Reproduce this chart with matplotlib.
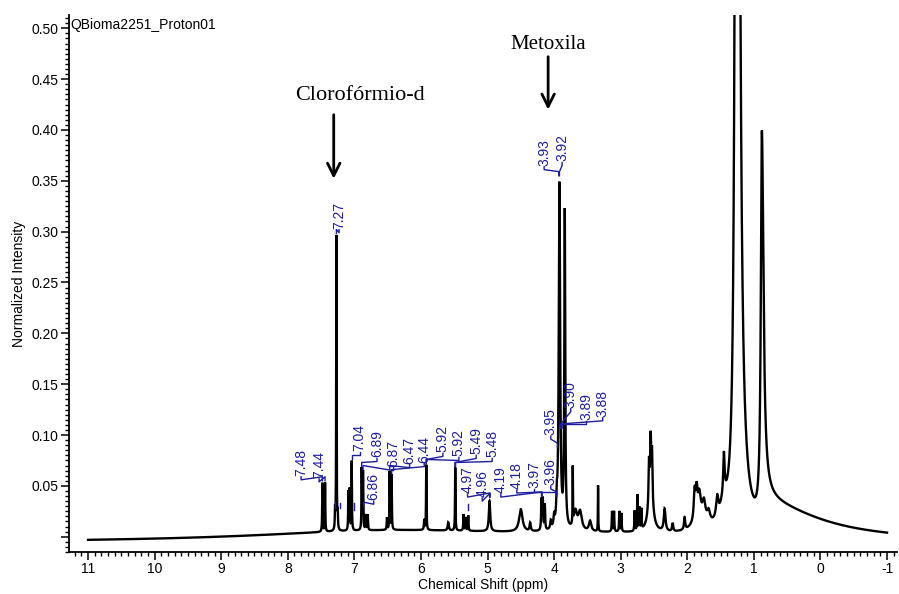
import numpy as np
import matplotlib
matplotlib.use("Agg")
import matplotlib.pyplot as plt
from matplotlib.ticker import MultipleLocator, FuncFormatter

plt.rcParams['font.family'] = ['Liberation Sans', 'DejaVu Sans']

# ---- peak table: centre (ppm), height, half-width toward high ppm, toward low ppm
peak_ppm = [7.48, 7.44, 7.29, 7.27, 7.25, 7.09, 7.07, 7.04,
            6.89, 6.87, 6.83, 6.80, 6.51, 6.47, 6.44,
            5.95, 5.92, 5.59, 5.485, 5.36, 5.33, 5.29,
            4.97, 4.50, 4.36, 4.19, 4.17, 4.14, 4.05, 4.00, 3.96,
            3.92, 3.84, 3.72, 3.68, 3.61, 3.46, 3.34,
            3.13, 3.10, 3.02, 2.99, 2.79, 2.75, 2.72, 2.69,
            2.575, 2.55, 2.53, 2.55, 2.34, 2.22, 2.04,
            1.89, 1.86, 1.82, 1.75, 1.68, 1.80, 1.55, 1.45, 1.45,
            1.255, 0.88, 0.85]
peak_height = [0.048, 0.048, 0.018, 0.290, 0.015, 0.038, 0.040, 0.068,
               0.060, 0.057, 0.015, 0.015, 0.012, 0.057, 0.054,
               0.010, 0.064, 0.008, 0.062, 0.016, 0.013, 0.015,
               0.030, 0.022, 0.008, 0.030, 0.030, 0.025, 0.008, 0.010, 0.020,
               0.340, 0.310, 0.055, 0.018, 0.018, 0.010, 0.045,
               0.020, 0.020, 0.020, 0.018, 0.020, 0.035, 0.022, 0.020,
               0.040, 0.050, 0.045, 0.040, 0.022, 0.008, 0.012,
               0.028, 0.026, 0.022, 0.016, 0.010, 0.014, 0.020, 0.040, 0.018,
               2.200, 0.370, 0.032]
peak_w_hi = [0.004, 0.004, 0.004, 0.0035, 0.004, 0.004, 0.004, 0.004,
             0.004, 0.004, 0.005, 0.005, 0.005, 0.004, 0.004,
             0.006, 0.004, 0.010, 0.004, 0.005, 0.005, 0.005,
             0.012, 0.030, 0.010, 0.006, 0.006, 0.006, 0.010, 0.010, 0.008,
             0.012, 0.008, 0.003, 0.030, 0.030, 0.020, 0.003,
             0.005, 0.005, 0.005, 0.005, 0.005, 0.004, 0.005, 0.005,
             0.008, 0.008, 0.008, 0.040, 0.015, 0.010, 0.010,
             0.015, 0.015, 0.025, 0.025, 0.025, 0.120, 0.020, 0.012, 0.080,
             0.020, 0.018, 0.030]
peak_w_lo = [0.004, 0.004, 0.004, 0.0035, 0.004, 0.004, 0.004, 0.004,
             0.004, 0.004, 0.005, 0.005, 0.005, 0.004, 0.004,
             0.006, 0.004, 0.010, 0.004, 0.005, 0.005, 0.005,
             0.012, 0.030, 0.010, 0.006, 0.006, 0.006, 0.010, 0.010, 0.008,
             0.012, 0.008, 0.003, 0.030, 0.030, 0.020, 0.003,
             0.005, 0.005, 0.005, 0.005, 0.005, 0.004, 0.005, 0.005,
             0.008, 0.008, 0.008, 0.040, 0.015, 0.010, 0.010,
             0.015, 0.015, 0.025, 0.025, 0.025, 0.120, 0.020, 0.012, 0.080,
             0.030, 0.028, 1.000]

# slowly varying baseline: offset plus two broad humps
base_offset = -0.006
hump_ppm = [6.5, 3.0]
hump_height = [0.011, 0.006]
hump_width = [2.5, 2.0]

# ---- peak picking labels
label_text = ["7.48", "7.44", "7.27", "7.04", "6.89", "6.87", "6.86", "6.47", "6.44",
              "5.92", "5.92", "5.49", "5.48", "4.97", "4.96", "4.19", "4.18",
              "3.97", "3.96", "3.95", "3.93", "3.92", "3.90", "3.89", "3.88"]
label_ppm = [7.48, 7.44, 7.27, 7.04, 6.89, 6.87, 6.86, 6.47, 6.44,
             5.92, 5.92, 5.49, 5.48, 4.97, 4.96, 4.19, 4.18,
             3.97, 3.96, 3.95, 3.93, 3.92, 3.90, 3.89, 3.88]
label_text_x = [7.80, 7.53, 7.23, 6.92, 6.66, 6.41, 6.71, 6.17, 5.95,
                5.67, 5.43, 5.17, 4.93, 5.30, 5.08, 4.80, 4.56,
                4.30, 4.05, 4.05, 4.15, 3.88, 3.75, 3.52, 3.27]
label_text_y = [0.060, 0.058, 0.303, 0.084, 0.078, 0.069, 0.036, 0.072, 0.073,
                0.083, 0.079, 0.081, 0.078, 0.043, 0.039, 0.043, 0.047,
                0.048, 0.051, 0.100, 0.365, 0.369, 0.127, 0.115, 0.118]
label_tip = [0.055, 0.055, 0.298, 0.076, 0.069, 0.066, 0.030, 0.066, 0.062,
             0.072, 0.072, 0.069, 0.069, 0.039, 0.039, 0.040, 0.040,
             0.040, 0.040, 0.088, 0.355, 0.355, 0.107, 0.107, 0.107]

# short leader stubs of unlabelled picks
stub_ppm = [7.29, 7.22, 7.00, 5.29]
stub_y0 = [0.028, 0.028, 0.026, 0.026]
stub_y1 = [0.034, 0.033, 0.033, 0.032]

# ---- build spectrum
ppm = np.linspace(11.0, -1.0, 48001)
spec = np.full_like(ppm, base_offset)
for c, h, w in zip(hump_ppm, hump_height, hump_width):
    spec += h * w**2 / ((ppm - c)**2 + w**2)
for c, h, whi, wlo in zip(peak_ppm, peak_height, peak_w_hi, peak_w_lo):
    w = np.where(ppm >= c, whi, wlo)
    spec += h * w**2 / ((ppm - c)**2 + w**2)

fig = plt.figure(figsize=(8.99, 5.94), dpi=100)
ax = fig.add_axes([0.0768, 0.0707, 0.921, 0.904])

ax.plot(ppm, spec, color='black', lw=1.7, solid_joinstyle='miter')

ax.set_xlim(11.285, -1.15)
ax.set_ylim(-0.015, 0.513)

for s in ('top', 'right'):
    ax.spines[s].set_visible(False)
ax.spines['left'].set_linewidth(1.3)
ax.spines['bottom'].set_linewidth(1.3)

ax.xaxis.set_major_locator(MultipleLocator(1))
ax.xaxis.set_minor_locator(MultipleLocator(0.1))
ax.xaxis.set_major_formatter(FuncFormatter(lambda v, p: f"{v:.0f}"))
ax.yaxis.set_major_locator(MultipleLocator(0.05))
ax.yaxis.set_minor_locator(MultipleLocator(0.005))
ax.yaxis.set_major_formatter(FuncFormatter(lambda v, p: "" if abs(v) < 1e-9 else f"{v:.2f}"))
ax.tick_params(axis='both', which='major', length=6, width=1.1, labelsize=10, pad=1.5)
ax.tick_params(axis='both', which='minor', length=3, width=1.0)

ax.set_xlabel("Chemical Shift (ppm)", fontsize=10, labelpad=1)
ax.set_ylabel("Normalized Intensity", fontsize=10, labelpad=4)

ax.text(0.002, 0.995, "QBioma2251_Proton01", transform=ax.transAxes,
        ha='left', va='top', fontsize=10)

# peak labels with leader lines
blue = '#1c1ca0'
for t, xp, xt, yt, tip in zip(label_text, label_ppm, label_text_x, label_text_y, label_tip):
    ax.text(xt, yt, t, rotation=90, ha='center', va='bottom', fontsize=10,
            color=blue)
    ax.plot([xt, xt, xp, xp], [yt - 0.001, yt - 0.004, tip + 0.004, tip],
            color=blue, lw=1.0)
for xp, y0, y1 in zip(stub_ppm, stub_y0, stub_y1):
    ax.plot([xp, xp], [y0, y1], color=blue, lw=1.0)

# annotations
serif = ['Liberation Serif', 'DejaVu Serif']
ax.annotate("", xy=(7.31, 0.352), xytext=(7.31, 0.415),
            arrowprops=dict(arrowstyle='->,head_length=0.9,head_width=0.45', lw=2, color='black',
                            shrinkA=0, shrinkB=0))
ax.text(6.92, 0.434, "Clorofórmio-d", ha='center', va='center', fontsize=16, family=serif)
ax.annotate("", xy=(4.09, 0.420), xytext=(4.09, 0.472),
            arrowprops=dict(arrowstyle='->,head_length=0.9,head_width=0.45', lw=2, color='black',
                            shrinkA=0, shrinkB=0))
ax.text(4.09, 0.484, "Metoxila", ha='center', va='center', fontsize=15, family=serif)

fig.savefig("out.png", dpi=100)
